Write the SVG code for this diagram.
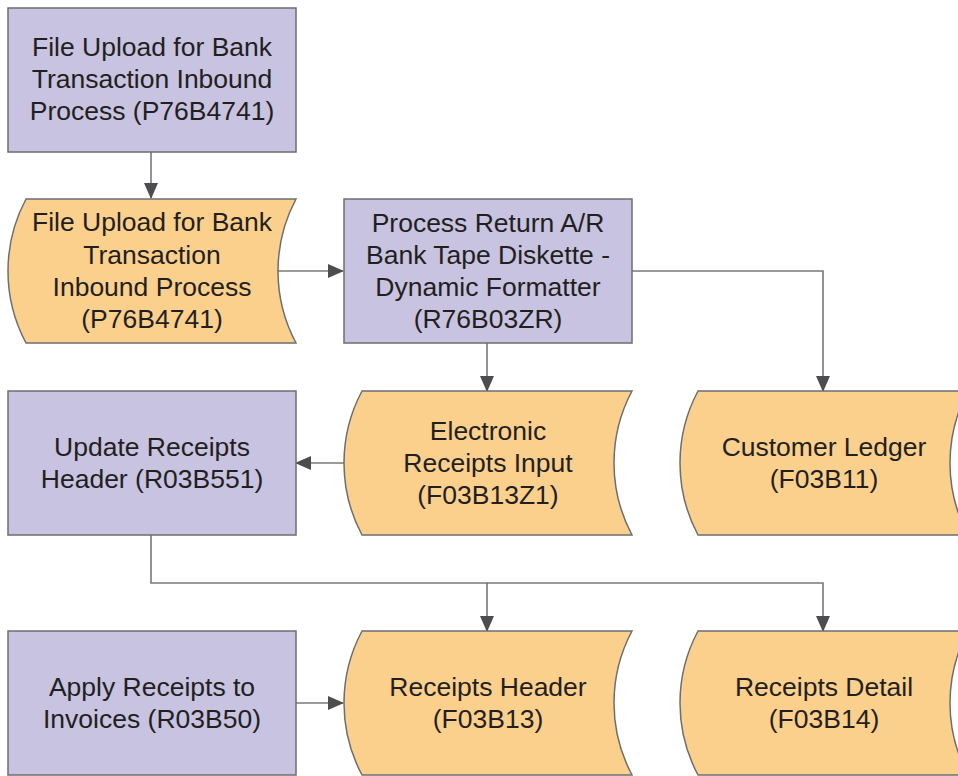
<svg xmlns="http://www.w3.org/2000/svg" width="958" height="776" viewBox="0 0 958 776">
<style>
.proc{fill:#c7c3e0;stroke:#6d6e71;stroke-width:1.5}
.data{fill:#fbd08c;stroke:#6d6e71;stroke-width:1.5}
.lbl{font-family:"Liberation Sans",Arial,sans-serif;font-size:26.5px;fill:#231f20;text-anchor:middle}
.con{fill:none;stroke:#77787b;stroke-width:1.6}
</style>
<defs>
<marker id="ah" markerUnits="userSpaceOnUse" markerWidth="16" markerHeight="14" refX="15" refY="7" orient="auto">
<path d="M0,0 L16,7 L0,14 Z" fill="#4d4d4f"/>
</marker>
</defs>
<rect width="958" height="776" fill="#ffffff"/>
<g id="connectors">
<path class="con" d="M151,152 V198" marker-end="url(#ah)"/>
<path class="con" d="M278,271 H343" marker-end="url(#ah)"/>
<path class="con" d="M487,343 V391" marker-end="url(#ah)"/>
<path class="con" d="M632,271 H823 V391" marker-end="url(#ah)"/>
<path class="con" d="M344,463 H296" marker-end="url(#ah)"/>
<path class="con" d="M151,535 V583 H487 V631" marker-end="url(#ah)"/>
<path class="con" d="M487,583 H823 V631" marker-end="url(#ah)"/>
<path class="con" d="M296,703 H343" marker-end="url(#ah)"/>
</g>
<g id="n1">
<rect class="proc" x="8" y="8" width="288" height="144"/>
<text class="lbl" x="152" y="56">File Upload for Bank</text>
<text class="lbl" x="152" y="88">Transaction Inbound</text>
<text class="lbl" x="152" y="120">Process (P76B4741)</text>
</g>
<g id="n2">
<path class="data" d="M26,199 H296 A153,153 0 0 0 296,343 H26 A153,153 0 0 1 26,199 Z"/>
<text class="lbl" x="152" y="231">File Upload for Bank</text>
<text class="lbl" x="152" y="264">Transaction</text>
<text class="lbl" x="152" y="296">Inbound Process</text>
<text class="lbl" x="152" y="328">(P76B4741)</text>
</g>
<g id="n3">
<rect class="proc" x="344" y="199" width="288" height="144"/>
<text class="lbl" x="488" y="232">Process Return A/R</text>
<text class="lbl" x="488" y="264">Bank Tape Diskette -</text>
<text class="lbl" x="488" y="296">Dynamic Formatter</text>
<text class="lbl" x="488" y="328">(R76B03ZR)</text>
</g>
<g id="n4">
<path class="data" d="M362,391 H632 A153,153 0 0 0 632,535 H362 A153,153 0 0 1 362,391 Z"/>
<text class="lbl" x="488" y="440">Electronic</text>
<text class="lbl" x="488" y="472">Receipts Input</text>
<text class="lbl" x="488" y="504">(F03B13Z1)</text>
</g>
<g id="n5">
<path class="data" d="M698,391 H968 A153,153 0 0 0 968,535 H698 A153,153 0 0 1 698,391 Z"/>
<text class="lbl" x="824" y="456">Customer Ledger</text>
<text class="lbl" x="824" y="488">(F03B11)</text>
</g>
<g id="n6">
<rect class="proc" x="8" y="391" width="288" height="144"/>
<text class="lbl" x="152" y="456">Update Receipts</text>
<text class="lbl" x="152" y="488">Header (R03B551)</text>
</g>
<g id="n7">
<rect class="proc" x="8" y="631" width="288" height="144"/>
<text class="lbl" x="152" y="696">Apply Receipts to</text>
<text class="lbl" x="152" y="728">Invoices (R03B50)</text>
</g>
<g id="n8">
<path class="data" d="M362,631 H632 A153,153 0 0 0 632,775 H362 A153,153 0 0 1 362,631 Z"/>
<text class="lbl" x="488" y="696">Receipts Header</text>
<text class="lbl" x="488" y="728">(F03B13)</text>
</g>
<g id="n9">
<path class="data" d="M698,631 H968 A153,153 0 0 0 968,775 H698 A153,153 0 0 1 698,631 Z"/>
<text class="lbl" x="824" y="696">Receipts Detail</text>
<text class="lbl" x="824" y="728">(F03B14)</text>
</g>
</svg>
